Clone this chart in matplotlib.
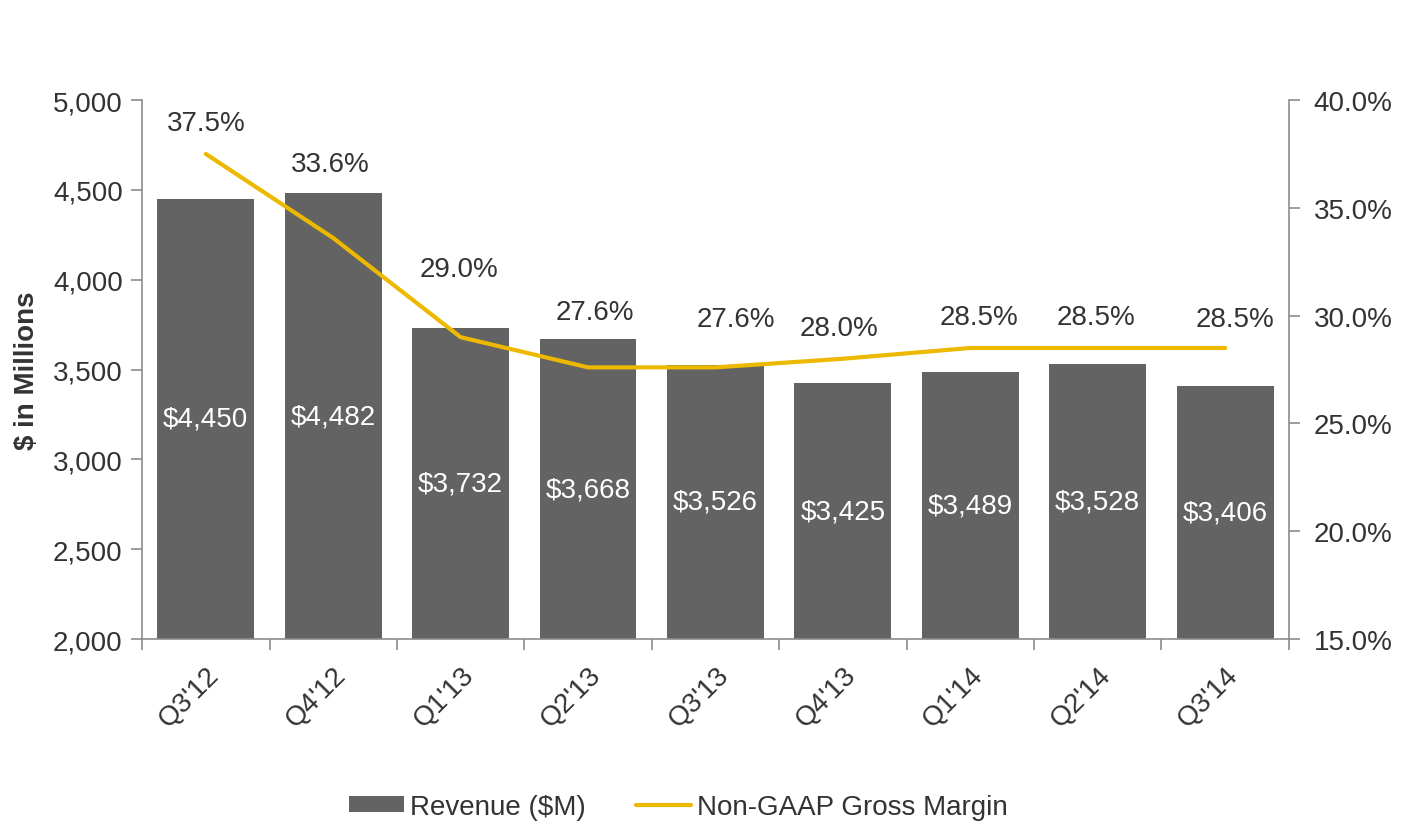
import matplotlib
matplotlib.use('Agg')
import matplotlib.pyplot as plt
import matplotlib.transforms as mtransforms
import numpy as np
from matplotlib.ticker import FuncFormatter, FixedLocator

plt.rcParams['font.family'] = ['Liberation Sans', 'DejaVu Sans']

quarters = ["Q3'12", "Q4'12", "Q1'13", "Q2'13", "Q3'13", "Q4'13", "Q1'14", "Q2'14", "Q3'14"]
revenue = [4450, 4482, 3732, 3668, 3526, 3425, 3489, 3528, 3406]
margin = [37.5, 33.6, 29.0, 27.6, 27.6, 28.0, 28.5, 28.5, 28.5]

# label nudges (points) for the margin labels, as placed in the original
label_dx = [0, -2, -1, 5, 15, -3, 6, -1, 7]
label_dy = [22, 53, 49, 40, 35, 22, 22, 22, 21]

bar_color = '#636363'
line_color = '#EDB800'
text_color = '#333333'
axis_color = '#8c8c8c'

fig = plt.figure(figsize=(14.07, 8.28), dpi=100)
ax = fig.add_axes([0.101, 0.227, 0.815, 0.651])
ax2 = ax.twinx()

x = np.arange(len(quarters))
bars = ax.bar(x, revenue, width=0.76, color=bar_color, label='Revenue ($M)', zorder=2)
ax.bar_label(bars, labels=[f'${v:,}' for v in revenue], label_type='center',
             color='white', fontsize=20)

ax.set_ylim(2000, 5000)
ax.set_xlim(-0.5, len(quarters) - 0.5)
ax.set_yticks(np.arange(2000, 5001, 500))
ax.yaxis.set_major_formatter(FuncFormatter(lambda v, p: f'{int(v):,}'))
ax.set_ylabel('$ in Millions', fontsize=20, fontweight='bold', color=text_color, labelpad=9)

ax.set_xticks(x)
ax.set_xticklabels(quarters, rotation=45, ha='right', va='top', rotation_mode='anchor')
shift = mtransforms.ScaledTranslation(-6 / 100, 0, fig.dpi_scale_trans)
for lbl in ax.get_xticklabels():
    lbl.set_transform(lbl.get_transform() + shift)
ax.xaxis.set_minor_locator(FixedLocator(np.arange(-0.5, len(quarters), 1)))
ax.tick_params(axis='x', which='major', length=0, pad=16, labelsize=20, labelcolor=text_color)
ax.tick_params(axis='x', which='minor', length=8, width=1.2, color=axis_color, direction='out')
ax.tick_params(axis='y', length=8, width=1.2, color=axis_color, pad=6, labelsize=20, labelcolor=text_color)

line, = ax2.plot(x, margin, color=line_color, lw=3.0, label='Non-GAAP Gross Margin',
                 solid_capstyle='round', solid_joinstyle='round', zorder=3)
ax2.set_ylim(15, 40)
ax2.set_yticks(np.arange(15, 40.1, 5))
ax2.yaxis.set_major_formatter(FuncFormatter(lambda v, p: f'{v:.1f}%'))
ax2.tick_params(axis='y', length=8, width=1.2, color=axis_color, pad=10, labelsize=20, labelcolor=text_color)

for i, m in enumerate(margin):
    ax2.annotate(f'{m:.1f}%', (x[i], m), xytext=(label_dx[i], label_dy[i]),
                 textcoords='offset points', ha='center', va='center',
                 fontsize=20, color=text_color)

for a in (ax, ax2):
    a.spines['top'].set_visible(False)
    for s in ('left', 'right', 'bottom'):
        a.spines[s].set_color(axis_color)
        a.spines[s].set_linewidth(1.2)
ax.spines['right'].set_visible(False)
ax2.spines['left'].set_visible(False)
ax2.spines['bottom'].set_visible(False)

fig.legend(handles=[bars, line], loc='center', bbox_to_anchor=(0.482, 0.024), ncol=2,
           frameon=False, fontsize=20, handlelength=2.0, handleheight=0.5,
           handletextpad=0.2, columnspacing=1.8, labelcolor=text_color)

fig.savefig('out.png', dpi=100)
